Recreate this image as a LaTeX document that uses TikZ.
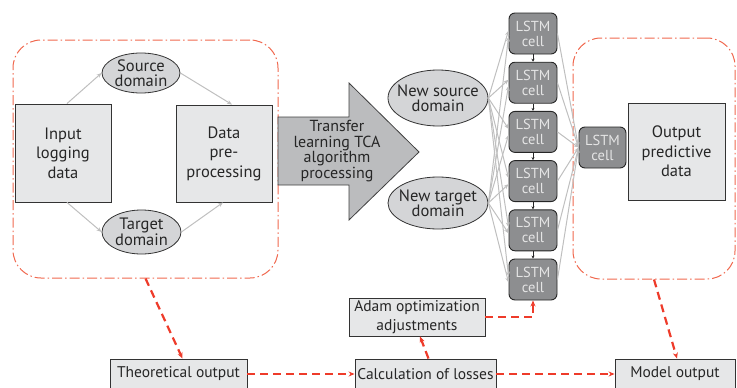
\documentclass[tikz,border=0pt]{standalone}
\usepackage{fontspec}
\setmainfont{PT Sans}
\usetikzlibrary{shapes.geometric,arrows.meta}
\definecolor{boxgray}{HTML}{E6E7E8}
\definecolor{ovalgray}{HTML}{D4D5D7}
\definecolor{cellgray}{HTML}{8D8E90}
\definecolor{wiregray}{HTML}{BFBFBF}
\definecolor{lossred}{HTML}{EE3B2A}
\definecolor{grpred}{HTML}{F0684E}
\definecolor{arrowgray}{HTML}{BBBCBE}

\begin{document}
\begin{tikzpicture}[x=1pt,y=-1pt,
  every node/.style={inner sep=1pt,text=black!85},
  databox/.style={draw=black!80,fill=boxgray,line width=0.9pt,align=center,font=\fontsize{16.5}{19.5}\selectfont},
  smallbox/.style={databox,font=\fontsize{15.5}{18.5}\selectfont},
  dombox/.style={ellipse,draw=black!80,fill=ovalgray,line width=0.8pt,align=center,inner sep=-8pt,font=\fontsize{16.5}{15.5}\selectfont},
  lstmcell/.style={draw=black!85,fill=cellgray,rounded corners=6pt,line width=0.9pt,minimum width=48pt,minimum height=41pt,align=center,text=white!90!black,font=\fontsize{14.5}{15}\selectfont},
  group/.style={draw=grpred,line width=1pt,dash pattern=on 10pt off 3pt on 1.5pt off 3pt,rounded corners=28pt},
  feed/.style={draw=wiregray,line width=1pt,-{Stealth[length=5pt,width=4pt]}},
  loss/.style={draw=lossred,line width=2.2pt,dash pattern=on 8pt off 5pt,-{Stealth[length=6pt,width=5pt]}}]
\useasboundingbox (0,0) rectangle (737,388);

% dashed groups
\node[group,minimum width=265pt,minimum height=238pt] (grpL) at (145.5,159) {};
\node[group,minimum width=162pt,minimum height=241pt] (grpR) at (654,158.5) {};

% input side
\node[databox,minimum width=96pt,minimum height=98pt] (input) at (63,153) {Input\\logging\\data};
\node[databox,minimum width=96pt,minimum height=97pt] (prep) at (224,153.5) {Data\\pre-\\processing};
\node[dombox,minimum width=78pt,minimum height=40pt] (src) at (141,73) {Source\\domain};
\node[dombox,minimum width=79pt,minimum height=44pt] (tgt) at (141.5,232) {Target\\domain};
\draw[feed] ([xshift=4pt]input.north) -- (src.west);
\draw[feed] (src.east) -- ([xshift=8pt]prep.north);
\draw[feed] ([xshift=4pt]input.south) -- (tgt.west);
\draw[feed] (tgt.east) -- ([xshift=-1pt]prep.south);

% TCA arrow
\draw[draw=black!75,fill=arrowgray,line width=0.8pt] (278,117) -- (349,117) -- (349,83) -- (419,152) -- (349,220) -- (349,185) -- (278,185) -- cycle;
\node[align=center,font=\fontsize{16}{15.5}\selectfont] (tca) at (337,151) {Transfer\\learning TCA\\algorithm\\processing};

\node[dombox,minimum width=100pt,minimum height=56pt] (newsrc) at (438,98) {New source\\domain};
\node[dombox,minimum width=100pt,minimum height=52pt] (newtgt) at (438,203) {New target\\domain};

% LSTM column
\foreach \i in {1,...,6}
  \node[lstmcell] (c\i) at (533,{33.5+49.2*(\i-1)}) {LSTM\\cell};
\foreach \i/\j in {1/2,2/3,3/4,4/5,5/6}
  \draw[black!85,line width=0.6pt,-{Stealth[length=3pt,width=3pt]}] (c\i) -- (c\j);
\node[lstmcell,minimum width=47pt] (outcell) at (602.5,147.5) {LSTM\\cell};
\foreach \i in {1,...,6} {
  \draw[feed] (newsrc.east) -- ([yshift=3pt]c\i.west);
  \draw[feed] (newtgt.east) -- ([yshift=-3pt]c\i.west);
  \draw[feed] (c\i.east) -- (outcell.west);
}

\node[databox,minimum width=97pt,minimum height=97pt] (output) at (676.5,151.5) {Output\\predictive\\data};

% loss loop
\node[smallbox,minimum width=137pt,minimum height=30pt] (theo) at (178.5,374) {Theoretical output};
\node[smallbox,minimum width=141pt,minimum height=30pt] (calc) at (425.5,374) {Calculation of losses};
\node[smallbox,minimum width=120pt,minimum height=30pt] (model) at (675,374) {Model output};
\node[smallbox,minimum width=136pt,minimum height=38pt] (adam) at (417,317) {Adam optimization\\adjustments};
\draw[loss] (grpL.south) -- ([xshift=4pt]theo.north);
\draw[loss] (grpR.south) -- ([xshift=2pt]model.north);
\draw[loss] (theo.east) -- (calc.west);
\draw[loss] (calc.east) -- (model.west);
\draw[loss] ([xshift=3pt]calc.north) -- ([xshift=3pt]adam.south);
\draw[loss] (adam.east) -| (c6.south);
\end{tikzpicture}
\end{document}
